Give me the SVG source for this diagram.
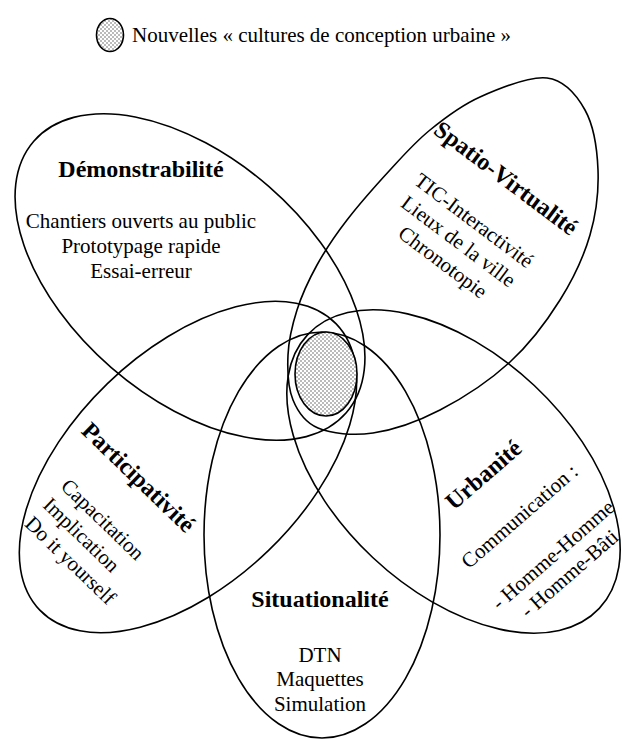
<svg xmlns="http://www.w3.org/2000/svg" width="622" height="739" viewBox="0 0 622 739">
<defs>
<pattern id="dots" width="4" height="4" patternUnits="userSpaceOnUse">
<rect width="4" height="4" fill="#fff"/>
<circle cx="1" cy="1" r="0.7" fill="#444"/>
<circle cx="3" cy="3" r="0.7" fill="#444"/>
</pattern>
</defs>
<style>
.petal{fill:none;stroke:#000;stroke-width:1.6}
.core{fill:url(#dots);stroke:#000;stroke-width:1.6}
.t{font-family:"Liberation Serif","Times New Roman",serif;font-size:21px;fill:#000}
.b{font-weight:bold;font-size:24px}
.m{text-anchor:middle}
</style>
<rect width="622" height="739" fill="#fff"/>
<g id="legend">
<ellipse class="core" cx="110" cy="35" rx="13.5" ry="16.5"/>
<text class="t" x="132" y="42">Nouvelles « cultures de conception urbaine »</text>
</g>
<g id="demonstrabilite">
<ellipse class="petal" cx="190" cy="277" rx="207" ry="120" transform="rotate(41 190 277)"/>
<text class="t b m" x="141" y="177">Démonstrabilité</text>
<text class="t m" x="141" y="228">Chantiers ouverts au public</text>
<text class="t m" x="141" y="253">Prototypage rapide</text>
<text class="t m" x="141" y="278">Essai-erreur</text>
</g>
<g id="spatio-virtualite">
<path class="petal" d="M547,78 C564.5,80.2 576.5,94.7 585,110 C593.5,125.3 597.2,149.2 598,170 C598.8,190.8 596.3,213.3 590,235 C583.7,256.7 573.3,278.8 560,300 C546.7,321.2 530,343.7 510,362 C490,380.3 462.8,398.2 440,410 C417.2,421.8 393.3,430 373,433 C352.7,436 331.3,433.5 318,428 C304.7,422.5 298,412.2 293,400 C288,387.8 287.3,370 288,355 C288.7,340 292.2,325 297,310 C301.8,295 308.7,280 317,265 C325.3,250 334.8,235.8 347,220 C359.2,204.2 376.2,185 390,170 C403.8,155 415,142.2 430,130 C445,117.8 460.5,105.7 480,97 C499.5,88.3 529.5,75.8 547,78 Z"/>
<g transform="translate(414,184) rotate(37)">
<text class="t b m" x="70" y="-52">Spatio-Virtualité</text>
<text class="t m" x="70" y="0">TIC-Interactivité</text>
<text class="t m" x="70" y="26">Lieux de la ville</text>
<text class="t m" x="70" y="52">Chronotopie</text>
</g>
</g>
<g id="participativite">
<ellipse class="petal" cx="188" cy="467" rx="206" ry="116" transform="rotate(-44 188 467)"/>
<g transform="translate(80,432) rotate(44)">
<text class="t b m" x="73.5" y="0">Participativité</text>
<text class="t" x="24" y="54">Capacitation</text>
<text class="t" x="24" y="80">Implication</text>
<text class="t" x="24" y="106">Do it yourself</text>
</g>
</g>
<g id="urbanite">
<ellipse class="petal" cx="453.5" cy="471.5" rx="200" ry="118" transform="rotate(43.2 453.5 471.5)"/>
<g transform="translate(466,572) rotate(-41)">
<text class="t b m" x="77" y="-54">Urbanité</text>
<text class="t m" x="77" y="0">Communication :</text>
<text class="t m" x="77" y="51">- Homme-Homme</text>
<text class="t m" x="77" y="76">- Homme-Bâti</text>
</g>
</g>
<g id="situationalite">
<ellipse class="petal" cx="322" cy="535" rx="118" ry="203"/>
<text class="t b m" x="320" y="607">Situationalité</text>
<text class="t m" x="320" y="662">DTN</text>
<text class="t m" x="320" y="686">Maquettes</text>
<text class="t m" x="320" y="711">Simulation</text>
</g>
<g id="core">
<ellipse class="core" cx="326" cy="374" rx="31" ry="42"/>
</g>
<g id="connectors"/>
</svg>
